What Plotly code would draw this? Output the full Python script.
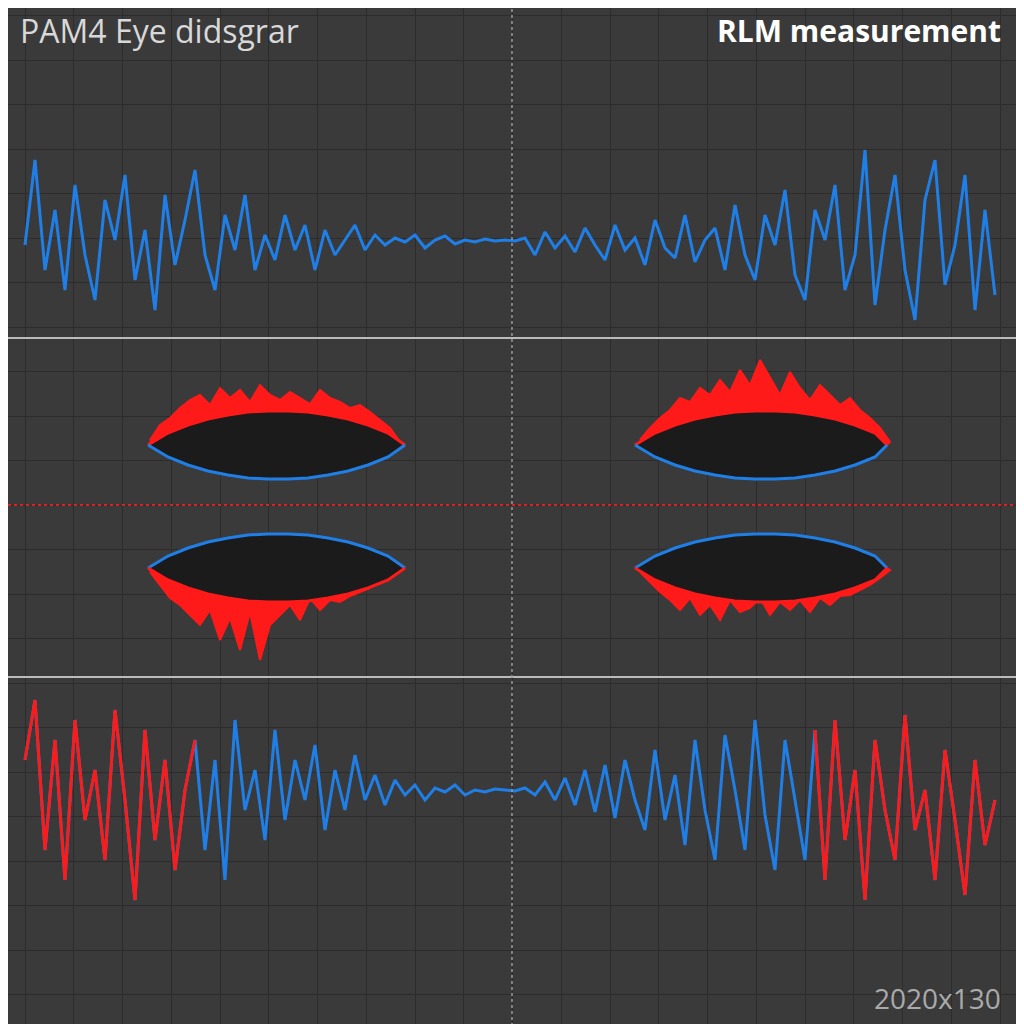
import plotly.graph_objects as go

# top trace (blue), x step 10 from 25
trace_x = list(range(25, 1000, 10))
top_y = [245, 160, 270, 210, 290, 185, 255, 300, 200, 240, 175, 280, 230, 310, 195, 265, 220, 170, 255, 290,
         215, 250, 195, 270, 235, 260, 215, 250, 225, 270, 230, 255, 240, 225, 250, 235, 245, 238, 242, 235,
         248, 240, 236, 244, 240, 242, 239, 241, 240,
         241, 238, 255, 232, 248, 236, 252, 228, 245, 260, 225, 250, 238, 265, 220, 248, 258, 215, 262, 240,
         228, 270, 205, 255, 280, 215, 245, 190, 275, 300, 210, 240, 185, 290, 255, 150, 305, 230, 175, 270,
         320, 200, 160, 285, 245, 175, 310, 210, 295]
bottom_y = [760, 700, 850, 740, 880, 720, 820, 770, 860, 710, 800, 900, 730, 840, 760, 870, 790,
            740, 850, 760, 880, 720, 810, 770, 840, 730, 820, 760, 800, 745, 830, 770, 810, 755, 800, 775, 805,
            780, 795, 785, 800, 788, 792, 785, 795, 790, 792, 789, 790,
            791, 788, 795, 782, 800, 778, 805, 770, 812, 765, 818, 760, 800, 830, 750, 820, 775, 845, 740, 810,
            860, 735, 790, 850, 720, 815, 870, 740, 800, 860, 730,
            880, 720, 840, 770, 900, 740, 810, 860, 715, 830, 790, 880, 750, 820, 895, 760, 845, 800]

# eyes
eye_left_x = [148, 168, 188, 208, 228, 248, 268, 288, 308, 328, 348, 368, 388, 405]
eye_right_x = [635, 655, 675, 695, 715, 735, 755, 775, 795, 815, 835, 855, 875, 887]
eye_half = [0, 12, 20, 26, 30, 33, 34, 34, 33, 30, 26, 20, 12, 0]
eye_centers = [445, 568]

fuzz_left_x = list(range(150, 401, 10))
fuzz_right_x = list(range(640, 891, 10))
fuzz_ul = [440, 425, 418, 408, 400, 395, 405, 388, 398, 390, 402, 385, 395, 400, 392, 398, 404, 390, 398, 402,
           408, 405, 412, 420, 428, 442]
fuzz_ur = [440, 428, 418, 410, 398, 402, 388, 395, 380, 392, 370, 385, 360, 378, 395, 372, 388, 400, 385, 395,
           405, 398, 410, 418, 428, 442]
fuzz_ll = [572, 585, 598, 605, 615, 625, 610, 640, 618, 650, 612, 660, 625, 615, 605, 620, 598, 610, 600, 602,
           596, 592, 588, 580, 575, 570]
fuzz_lr = [572, 582, 592, 600, 610, 598, 615, 605, 620, 600, 612, 608, 598, 615, 602, 610, 600, 612, 598, 605,
           596, 595, 590, 585, 578, 570]

BLUE = '#1f7fe6'
RED = '#ff1a1a'

fig = go.Figure()
fig.add_trace(go.Scatter(x=trace_x, y=top_y, mode='lines', line=dict(color=BLUE, width=3)))
fig.add_trace(go.Scatter(x=trace_x, y=bottom_y, mode='lines', line=dict(color=BLUE, width=3)))
fig.add_trace(go.Scatter(x=trace_x[:18], y=bottom_y[:18], mode='lines', line=dict(color=RED, width=3)))
fig.add_trace(go.Scatter(x=trace_x[79:], y=bottom_y[79:], mode='lines', line=dict(color=RED, width=3)))

# red fuzz bands, filled down to the eye edge
fuzz = [(fuzz_left_x, fuzz_ul, eye_left_x, 0), (fuzz_right_x, fuzz_ur, eye_right_x, 0),
        (fuzz_left_x, fuzz_ll, eye_left_x, 1), (fuzz_right_x, fuzz_lr, eye_right_x, 1)]
for fx, fy, ex, i in fuzz:
    c = eye_centers[i]
    edge = [c - h for h in eye_half] if i == 0 else [c + h for h in eye_half]
    fig.add_trace(go.Scatter(x=fx + ex[::-1], y=fy + edge[::-1], fill='toself', fillcolor=RED,
                             mode='lines', line=dict(color=RED, width=2)))

for ex in (eye_left_x, eye_right_x):
    for i, c in enumerate(eye_centers):
        top = [c - h for h in eye_half]
        bot = [c + h for h in eye_half]
        fig.add_trace(go.Scatter(x=ex + ex[::-1], y=top + bot[::-1], fill='toself', fillcolor='#1b1b1b',
                                 mode='lines', line=dict(width=0)))
        fig.add_trace(go.Scatter(x=ex, y=top, mode='lines', line=dict(color=RED if i == 0 else BLUE, width=3)))
        fig.add_trace(go.Scatter(x=ex, y=bot, mode='lines', line=dict(color=BLUE if i == 0 else RED, width=3)))

fig.add_hline(y=338, line=dict(color='#bbbbbb', width=2))
fig.add_hline(y=677, line=dict(color='#bbbbbb', width=2))
fig.add_hline(y=505, line=dict(color='#e02020', width=2, dash='dot'))
fig.add_vline(x=512, line=dict(color='#999999', width=1.5, dash='dot'))

fig.add_annotation(x=18, y=30, text='PAM4 Eye didsgrar', showarrow=False, xanchor='left',
                   font=dict(size=32, color='#d8d8d8', family='Open Sans'))
fig.add_annotation(x=1003, y=30, text='<b>RLM measurement</b>', showarrow=False, xanchor='right',
                   font=dict(size=30, color='#ffffff', family='Open Sans'))
fig.add_annotation(x=1003, y=998, text='2020x130', showarrow=False, xanchor='right',
                   font=dict(size=28, color='#aaaaaa', family='Open Sans'))

fig.update_layout(
    width=1024, height=1024, margin=dict(l=0, r=0, t=0, b=0),
    paper_bgcolor='#363636', plot_bgcolor='#3a3a3a', showlegend=False,
    xaxis=dict(range=[8, 1032], showticklabels=False, zeroline=False, showgrid=True,
               gridcolor='#2c2c2c', tick0=25, dtick=48.75),
    yaxis=dict(range=[1032, 8], showticklabels=False, zeroline=False, showgrid=True,
               gridcolor='#2c2c2c', tick0=60, dtick=44.5),
)
fig.write_html("out.html")
